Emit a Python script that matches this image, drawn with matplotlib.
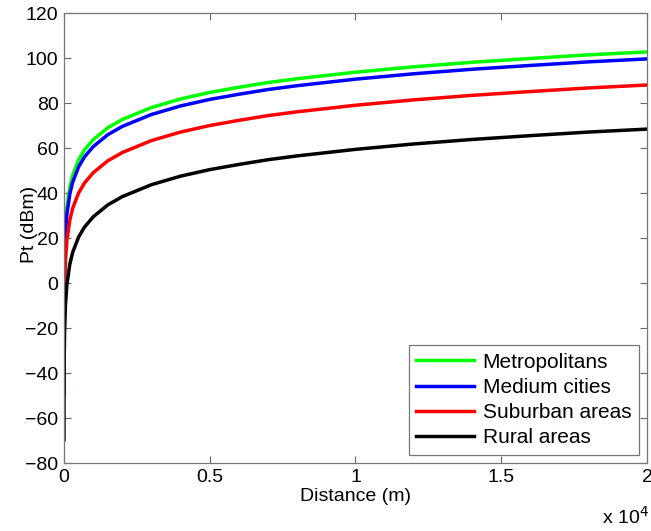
import numpy as np
import matplotlib
matplotlib.use("Agg")
import matplotlib.pyplot as plt

plt.rcParams['font.family'] = ['Liberation Sans', 'DejaVu Sans']

# distance in metres
distance = [0.5, 1, 2, 5, 10, 20, 50, 100, 200, 300, 500, 700, 1000, 1500, 2000,
            3000, 4000, 5000, 6000, 7000, 8000, 10000, 12000, 14000, 16000, 18000, 20000]

metropolitans = [-35.3, -26.3, -17.3, -5.3, 3.7, 12.7, 24.7, 33.7, 42.7, 48.0, 54.7, 59.1, 63.7, 69.0, 72.7,
                 78.0, 81.8, 84.7, 87.0, 89.1, 90.8, 93.7, 96.1, 98.1, 99.8, 101.4, 102.7]
medium_cities = [-38.4, -29.4, -20.4, -8.4, 0.6, 9.6, 21.6, 30.6, 39.6, 44.9, 51.6, 56.0, 60.6, 65.9, 69.6,
                 74.9, 78.7, 81.6, 83.9, 86.0, 87.7, 90.6, 93.0, 95.0, 96.7, 98.3, 99.6]
suburban = [-50.0, -41.0, -32.0, -20.0, -11.0, -2.0, 10.0, 19.0, 28.0, 33.3, 40.0, 44.4, 49.0, 54.3, 58.0,
            63.3, 67.1, 70.0, 72.3, 74.4, 76.1, 79.0, 81.4, 83.4, 85.1, 86.7, 88.0]
rural = [-69.6, -60.6, -51.6, -39.6, -30.6, -21.6, -9.6, -0.6, 8.4, 13.7, 20.4, 24.8, 29.4, 34.7, 38.4,
         43.7, 47.5, 50.4, 52.7, 54.8, 56.5, 59.4, 61.8, 63.8, 65.5, 67.1, 68.4]

labels = ["Metropolitans", "Medium cities", "Suburban areas", "Rural areas"]
colors = ["#00ff00", "#0000ff", "#ff0000", "#000000"]

fig = plt.figure(figsize=(6.51, 5.31), dpi=100)
ax = fig.add_axes([0.0983, 0.128, 0.8955, 0.8475])

for ys, lab, c in zip([metropolitans, medium_cities, suburban, rural], labels, colors):
    ax.plot(distance, ys, color=c, lw=2.5, label=lab)

ax.set_xlim(0, 20000)
ax.set_ylim(-80, 120)
ax.set_xticks([0, 5000, 10000, 15000, 20000])
ax.set_xticklabels(["0", "0.5", "1", "1.5", "2"])
ax.set_yticks(np.arange(-80, 121, 20))
ax.tick_params(direction="in", length=5, width=0.8, labelsize=14, top=True, right=True,
               color="#666666", pad=4)
for s in ax.spines.values():
    s.set_color("#777777")
    s.set_linewidth(0.9)

ax.set_xlabel("Distance (m)", fontsize=14, labelpad=2)
ax.set_ylabel("Pt (dBm)", fontsize=14)
ax.yaxis.set_label_coords(-0.045, 0.53)
fig.text(0.997, 0.006, r"x 10$^4$", fontsize=14, ha="right", va="bottom")

leg = ax.legend(loc="lower right", fontsize=15, handlelength=2.8, borderaxespad=0.4,
                fancybox=False, framealpha=1, edgecolor="#777777",
                labelspacing=0.3, borderpad=0.35, handletextpad=0.4)
leg.get_frame().set_linewidth(0.9)

fig.savefig("out.png", dpi=100)
